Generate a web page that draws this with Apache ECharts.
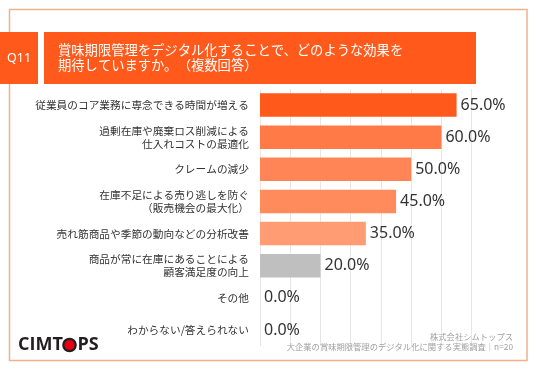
<!DOCTYPE html>
<html><head><meta charset="utf-8">
<script src="https://cdn.jsdelivr.net/npm/echarts@6/dist/echarts.min.js"></script>
<style>html,body{margin:0;padding:0;background:#fff}#c{width:536px;height:371px}</style>
</head><body><div id="c"></div>
<script>
const categories = [
  '従業員のコア業務に専念できる時間が増える',
  '過剰在庫や廃棄ロス削減による\n仕入れコストの最適化',
  'クレームの減少',
  '在庫不足による売り逃しを防ぐ\n（販売機会の最大化）',
  '売れ筋商品や季節の動向などの分析改善',
  '商品が常に在庫にあることによる\n顧客満足度の向上',
  'その他',
  'わからない/答えられない'
];
const values = [65, 60, 50, 45, 35, 20, 0, 0];
const barColors = ['#FF5A1C', '#FF7A47', '#FF8456', '#FF8A5C', '#FF9C74', '#BFBFBF', '#FF9C74', '#FF9C74'];
const titleLine1 = '賞味期限管理をデジタル化することで、どのような効果を';
const titleLine2a = '期待していますか。';
const titleLine2b = '（複数回答）';
const qLabel = 'Q11';
const sourceLines = ['株式会社シムトップス', '大企業の賞味期限管理のデジタル化に関する実態調査｜n=20'];

const JP = '"Noto Sans CJK JP", "Noto Sans", sans-serif';
const chart = echarts.init(document.getElementById('c'), null, {renderer: 'canvas'});
const titleStyle = {fill: '#fff', fontSize: 13.3, fontFamily: JP, align: 'left', verticalAlign: 'middle'};
chart.setOption({
  backgroundColor: '#fff',
  animation: false,
  grid: {left: 260, right: 64.3, top: 89, height: 257},
  xAxis: {
    type: 'value', min: 0, max: 70, interval: 10,
    axisLabel: {show: false}, axisLine: {show: false}, axisTick: {show: false},
    splitLine: {show: true, lineStyle: {color: '#E6E6E6', width: 1}}
  },
  yAxis: {
    type: 'category', inverse: true, data: categories,
    axisLine: {show: false}, axisTick: {show: false},
    axisLabel: {margin: 11, fontSize: 10.7, lineHeight: 13, color: '#333', fontFamily: JP, align: 'right'}
  },
  series: [{
    type: 'bar',
    data: values.map((v, i) => ({value: v, itemStyle: {color: barColors[i]}})),
    barWidth: '73%',
    label: {
      show: true, position: 'right', distance: 4,
      formatter: p => p.value.toFixed(1) + '%',
      fontSize: 16, color: '#333', fontFamily: '"Noto Sans", sans-serif'
    }
  }],
  graphic: [
    {type: 'rect', shape: {x: 9.5, y: 9.5, width: 517.5, height: 351}, style: {fill: 'none', stroke: '#F2B08C', lineWidth: 1.5}, z: 0},
    {type: 'rect', shape: {x: 0, y: 32, width: 38, height: 52}, style: {fill: '#FF5A1C'}, z: 10},
    {type: 'rect', shape: {x: 44, y: 32, width: 432, height: 52}, style: {fill: '#FF5A1C'}, z: 10},
    {type: 'text', x: 19, y: 58, style: {text: qLabel, fill: '#fff', fontSize: 12.5, fontFamily: '"Noto Sans", sans-serif', align: 'center', verticalAlign: 'middle'}, z: 11},
    {type: 'text', x: 58, y: 50, style: Object.assign({text: titleLine1}, titleStyle), z: 11},
    {type: 'text', x: 58, y: 64.5, style: Object.assign({text: titleLine2a}, titleStyle), z: 11},
    {type: 'text', x: 58 + 13.3 * 9, y: 64.5, style: Object.assign({text: titleLine2b}, titleStyle), z: 11},
    {type: 'text', x: 513, y: 337, style: {text: sourceLines[0], fill: '#A0A0A0', fontSize: 8.3, fontFamily: JP, align: 'right', verticalAlign: 'middle'}, z: 11},
    {type: 'text', x: 513, y: 347, style: {text: sourceLines[1], fill: '#A0A0A0', fontSize: 8.3, fontFamily: JP, align: 'right', verticalAlign: 'middle'}, z: 11},
    {type: 'text', x: 18, y: 345, style: {text: 'CIMT', fill: '#231F20', fontSize: 18, fontWeight: 'bold', fontFamily: '"Open Sans", Lato, sans-serif', align: 'left', verticalAlign: 'middle'}, z: 11},
    {type: 'circle', shape: {cx: 69.5, cy: 345, r: 6.2}, style: {fill: '#E60012', stroke: '#231F20', lineWidth: 2.2}, z: 11},
    {type: 'text', x: 77.5, y: 345, style: {text: 'PS', fill: '#231F20', fontSize: 18, fontWeight: 'bold', fontFamily: '"Open Sans", Lato, sans-serif', align: 'left', verticalAlign: 'middle'}, z: 11}
  ]
});
</script></body></html>
